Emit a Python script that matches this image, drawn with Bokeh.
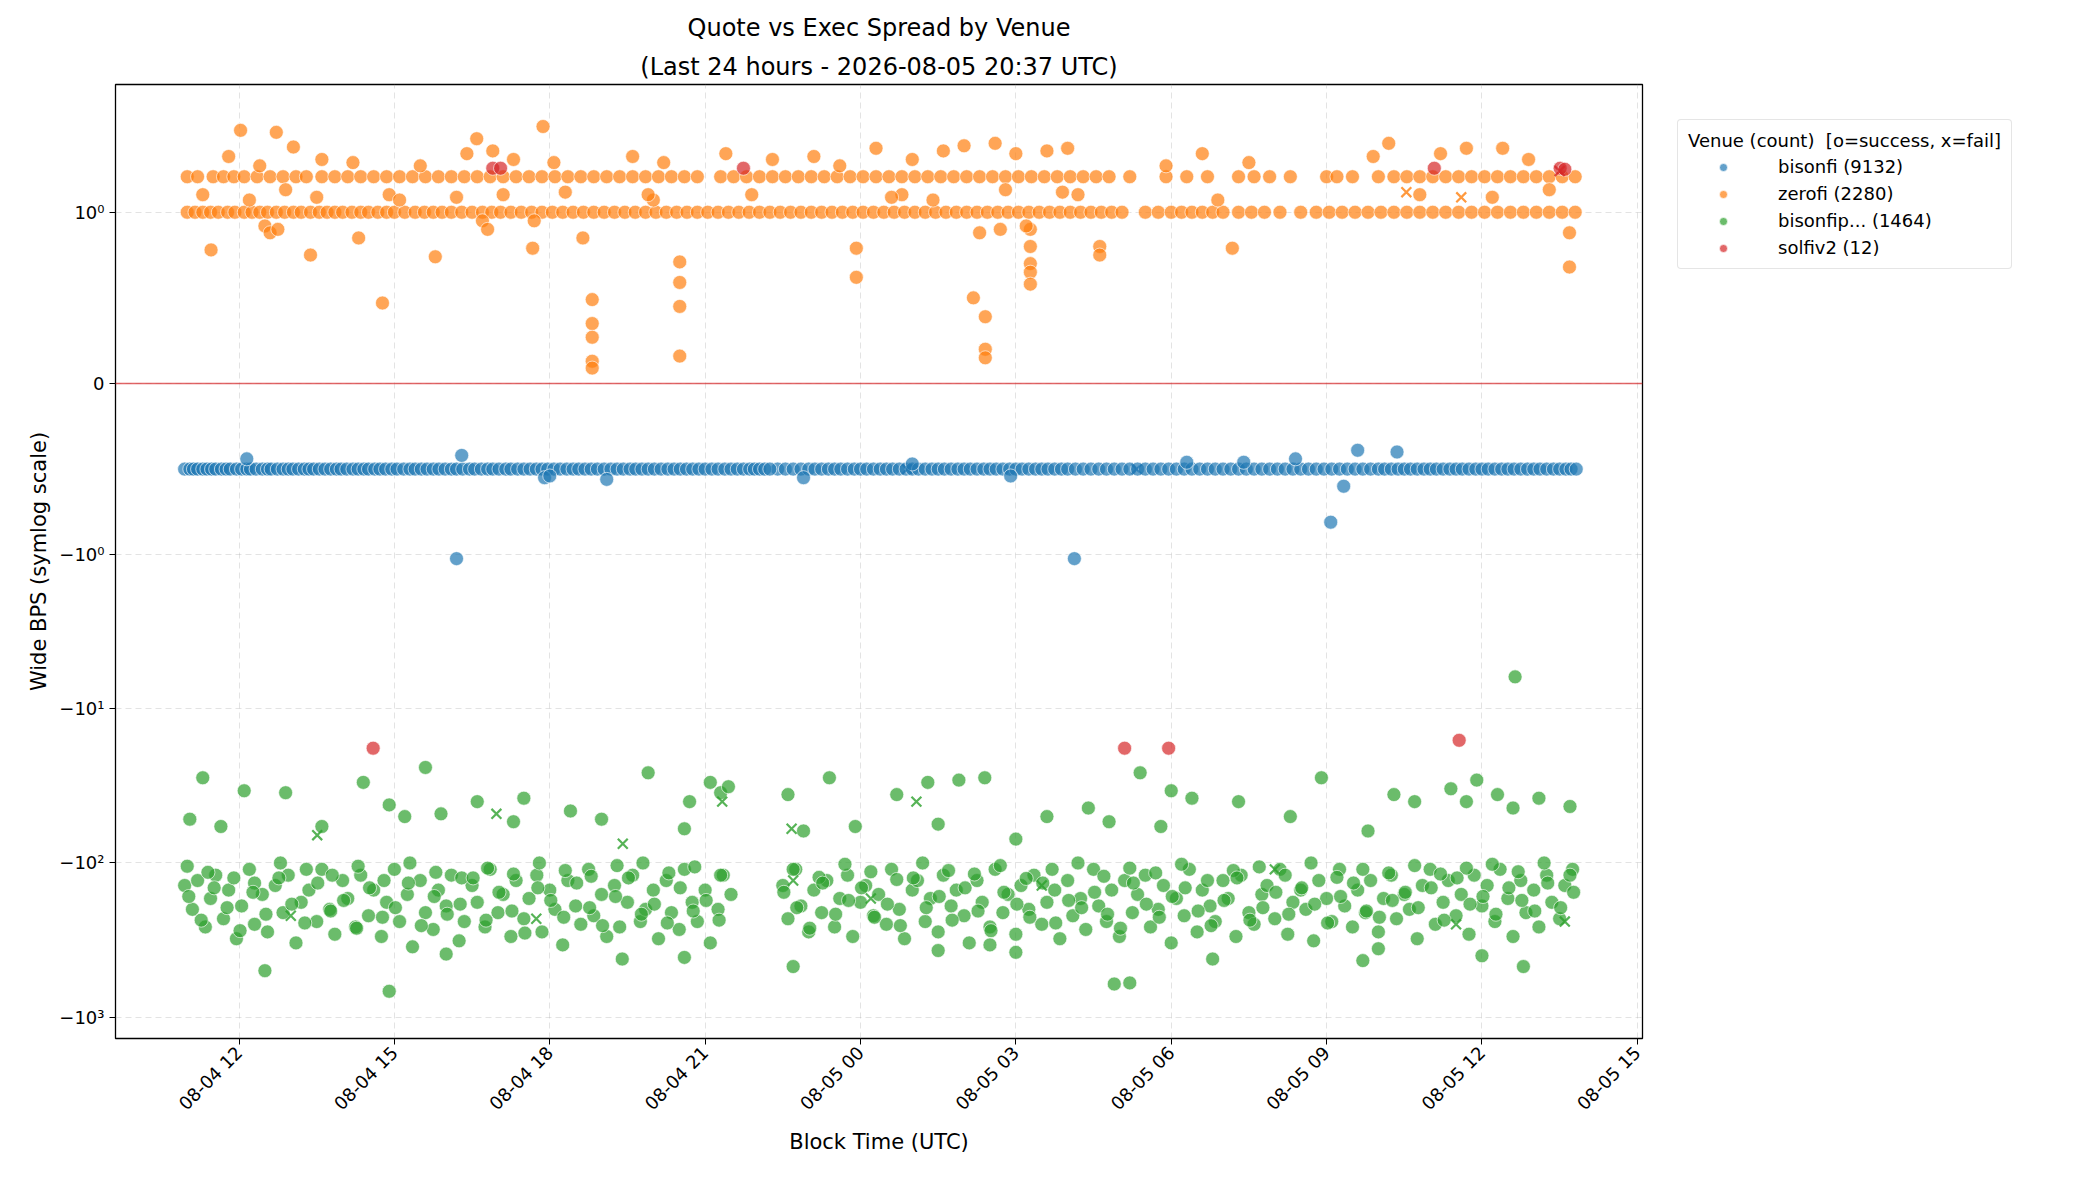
import math
from bokeh.plotting import figure
from bokeh.models import (ColumnDataSource, Span, FixedTicker, Legend, LegendItem, Range1d, Title)
from bokeh.embed import file_html
from bokeh.resources import INLINE

# ---- data (hours since 08-04 00:00 UTC, spread in bps) ----
bis_t = [10.95,11.05,11.12,11.2,11.3,11.38,11.47,11.55,11.66,11.75,11.83,11.95,12.05,12.15,12.22,12.33,12.45,12.55,12.62,12.74,12.85,12.95,13.04,13.15,13.26,13.35,13.44,13.55,13.66,13.77,13.88,13.97,14.08,14.2,14.3,14.41,14.5,14.62,14.72,14.83,14.95,15.05,15.18,15.3,15.4,15.52,15.63,15.75,15.86,15.98,16.1,16.2,16.32,16.45,16.55,16.68,16.8,16.9,17.02,17.15,17.25,17.38,17.5,17.62,17.74,17.85,17.96,18.08,18.2,18.33,18.45,18.56,18.68,18.8,18.92,19.05,19.18,19.3,19.42,19.55,19.66,19.78,19.9,20.02,20.15,20.28,20.4,20.52,20.64,20.76,20.88,21.0,21.13,21.25,21.38,21.5,21.62,21.74,21.86,22.4,22.55,22.7,22.85,23.0,23.12,23.25,23.38,23.5,23.62,23.75,23.88,24.0,24.12,24.25,24.38,24.5,24.62,24.75,24.88,25.0,25.12,25.25,25.38,25.5,25.62,25.75,25.88,26.0,26.12,26.25,26.38,26.5,26.62,26.75,26.88,27.0,27.12,27.25,27.38,27.5,27.62,27.75,27.88,28.0,28.15,28.3,28.45,28.6,28.75,28.9,29.05,29.2,29.35,29.5,29.65,29.8,29.95,30.1,30.25,30.4,30.55,30.7,30.85,31.0,31.15,31.3,31.45,31.6,31.75,31.9,32.05,32.2,32.35,32.5,32.65,32.8,32.95,33.1,33.25,33.4,33.55,33.7,33.85,34.0,34.12,34.25,34.38,34.5,34.62,34.75,34.88,35.0,35.12,35.25,35.38,35.5,35.62,35.75,35.88,36.0,36.12,36.25,36.38,36.5,36.62,36.75,36.88,37.0,37.12,37.25,37.38,37.5,37.62,37.72,37.82,21.95,22.05,22.15,22.25]
bis_v = [-0.5]*len(bis_t)
bis_out_t = [12.15,16.3,16.2,28.13,32.4,33.08,33.33,33.6,34.36,17.9,19.1,22.9,26.9,30.3,18.0,25.0,31.4]
bis_out_v = [-0.44,-0.42,-1.06,-1.06,-0.44,-0.81,-0.6,-0.39,-0.4,-0.55,-0.56,-0.55,-0.54,-0.46,-0.54,-0.47,-0.46]
bis_fail_t = [29.33, 24.9]
bis_fail_v = [-0.5, -0.5]

zf_lo_t = [11.0,11.15,11.3,11.45,11.6,11.78,11.92,12.1,12.25,12.4,12.55,12.72,12.88,13.05,13.2,13.38,13.55,13.7,13.85,14.0,14.18,14.35,14.5,14.68,14.85,15.0,15.2,15.4,15.58,15.75,15.92,16.1,16.3,16.5,16.7,16.88,17.05,17.25,17.45,17.65,17.85,18.05,18.25,18.45,18.65,18.85,19.05,19.25,19.45,19.65,19.85,20.05,20.25,20.45,20.65,20.85,21.05,21.25,21.45,21.65,21.85,22.05,22.25,22.45,22.65,22.85,23.05,23.25,23.45,23.65,23.85,24.05,24.25,24.45,24.65,24.85,25.05,25.25,25.45,25.65,25.85,26.05,26.25,26.45,26.65,26.85,27.05,27.25,27.45,27.65,27.85,28.05,28.25,28.45,28.65,28.85,29.05,29.5,29.75,30.0,30.2,30.4,30.6,30.8,31.0,31.3,31.55,31.8,32.1,32.5,32.8,33.05,33.3,33.55,33.8,34.05,34.3,34.55,34.8,35.05,35.3,35.55,35.8,36.05,36.3,36.55,36.8,37.05,37.3,37.55,37.8]
zf_lo_v = [1.0]*len(zf_lo_t)
zf_hi_t = [11.0,11.2,11.5,11.7,11.9,12.1,12.35,12.6,12.85,13.1,13.3,13.6,13.85,14.1,14.35,14.6,14.85,15.1,15.35,15.6,15.85,16.1,16.35,16.6,16.85,17.1,17.35,17.6,17.85,18.1,18.35,18.6,18.85,19.1,19.35,19.6,19.85,20.1,20.35,20.6,20.85,21.3,21.55,21.8,22.05,22.3,22.55,22.8,23.05,23.3,23.55,23.8,24.05,24.3,24.55,24.8,25.05,25.3,25.55,25.8,26.05,26.3,26.55,26.8,27.05,27.3,27.55,27.8,28.05,28.3,28.55,28.8,29.2,29.9,30.3,30.7,31.3,31.6,31.9,32.3,33.0,33.2,33.5,34.0,34.3,34.55,34.8,35.05,35.3,35.55,35.8,36.05,36.3,36.55,36.8,37.05,37.3,37.55,37.8]
zf_hi_v = [1.7]*len(zf_hi_t)
zf_x_t = [11.46,12.03,12.72,13.05,13.38,14.31,14.77,15.79,16.59,17.67,17.87,18.08,18.64,18.82,18.82,18.82,18.82,18.82,20.51,20.51,20.51,20.51,23.92,23.92,26.18,26.41,26.41,26.41,27.28,27.28,27.28,27.28,27.28,28.62,28.62,31.18,37.69,37.69,34.2,35.7,11.8,12.4,13.6,14.2,15.5,16.4,16.9,17.3,19.6,20.2,21.4,22.3,23.1,23.6,24.3,25.0,25.6,26.0,26.6,27.0,27.6,28.0,29.9,30.6,31.5,33.9,35.2,36.4,36.9,11.3,12.9,14.9,16.2,17.1,18.3,20.0,21.9,24.8,26.8,27.9,30.9,34.8,36.2,37.3,12.5,12.6,12.75,16.7,16.8,17.7,26.3,26.7,27.2,12.2,13.5,15.1,19.9,24.6,25.4,28.2]
zf_x_v = [0.78,3.4,3.3,2.65,0.75,0.85,0.47,0.74,3.0,0.79,3.6,2.1,0.85,0.49,0.35,0.27,0.13,0.09,0.71,0.59,0.45,0.16,0.79,0.62,0.5,0.39,0.2,0.15,0.8,0.7,0.65,0.58,0.9,0.8,0.75,0.79,0.68,0.88,2.8,2.6,2.3,2.0,2.2,2.1,2.0,2.4,2.5,2.2,2.3,2.1,2.4,2.2,2.3,2.0,2.6,2.2,2.5,2.7,2.8,2.4,2.5,2.6,2.0,2.4,2.1,2.3,2.4,2.6,2.2,1.3,1.4,1.3,1.25,1.3,1.35,1.2,1.3,1.3,1.4,1.35,1.2,1.3,1.25,1.4,0.92,0.88,0.9,0.95,0.9,0.95,0.88,0.9,0.92,1.2,1.25,1.2,1.3,1.25,1.2,1.3]
zf_fail_t = [34.54, 35.6]
zf_fail_v = [1.35, 1.25]

# green: bulk band (about -100 .. -350)
gr_a_t = [10.95,11.1,11.2,11.35,11.45,11.55,11.7,11.8,11.95,12.05,12.2,12.3,12.45,12.55,12.7,12.85,12.95,13.1,13.2,13.35,13.5,13.6,13.75,13.85,14.0,14.1,14.25,14.35,14.5,14.6,14.75,14.85,15.0,15.1,15.25,15.35,15.5,15.6,15.75,15.85,16.0,16.1,16.25,16.35,16.5,16.6,16.75,16.85,17.0,17.1,17.25,17.35,17.5,17.6,17.75,17.85,18.0,18.1,18.25,18.35,18.5,18.6,18.75,18.85,19.0,19.1,19.25,19.35,19.5,19.6,19.75,19.85,20.0,20.1,20.25,20.35,20.5,20.6,20.75,20.85,21.0,21.1,21.25,21.35,21.5,22.5,22.6,22.75,22.85,23.0,23.1,23.25,23.35,23.5,23.6,23.75,23.85,24.0,24.1,24.25,24.35,24.5,24.6,24.75,24.85,25.0,25.1,25.25,25.35,25.5,25.6,25.75,25.85,26.0,26.1,26.25,26.35,26.5,26.6,26.75,26.85,27.0,27.1,27.25,27.35,27.5,27.6,27.75,27.85,28.0,28.1,28.25,28.35,28.5,28.6,28.75,28.85,29.0,29.1,29.25,29.35,29.5,29.6,29.75,29.85,30.0,30.1,30.25,30.35,30.5,30.6,30.75,30.85,31.0,31.1,31.25,31.35,31.5,31.6,31.75,31.85,32.0,32.1,32.25,32.35,32.5,32.6,32.75,32.85,33.0,33.1,33.25,33.35,33.5,33.6,33.75,33.85,34.0,34.1,34.25,34.35,34.5,34.6,34.75,34.85,35.0,35.1,35.25,35.35,35.5,35.6,35.75,35.85,36.0,36.1,36.25,36.35,36.5,36.6,36.75,36.85,37.0,37.1,37.25,37.35,37.5,37.6,37.75]
gr_a_v = [-140,-200,-130,-260,-170,-120,-230,-150,-310,-190,-110,-250,-160,-280,-140,-210,-120,-330,-180,-150,-240,-110,-200,-290,-130,-170,-260,-120,-220,-150,-300,-180,-110,-240,-160,-350,-130,-210,-270,-150,-190,-120,-320,-240,-140,-180,-260,-110,-210,-160,-300,-130,-230,-170,-120,-280,-150,-200,-340,-130,-190,-250,-110,-220,-160,-300,-140,-260,-180,-120,-240,-200,-150,-310,-130,-210,-270,-110,-180,-240,-150,-330,-200,-120,-160,-140,-230,-110,-190,-280,-150,-210,-130,-260,-170,-120,-300,-180,-140,-220,-160,-250,-110,-200,-310,-150,-130,-240,-170,-280,-120,-190,-150,-220,-330,-130,-180,-260,-110,-210,-160,-290,-140,-200,-120,-250,-180,-150,-310,-130,-220,-170,-270,-110,-190,-240,-150,-300,-130,-210,-160,-120,-260,-200,-140,-330,-170,-220,-110,-280,-150,-190,-240,-130,-170,-300,-120,-210,-250,-160,-140,-230,-110,-290,-180,-150,-200,-320,-130,-170,-240,-110,-190,-260,-150,-210,-130,-280,-170,-120,-230,-160,-200,-310,-140,-110,-250,-180,-130,-220,-160,-290,-120,-190,-140,-240,-110,-170,-300,-130,-210,-150,-260,-120,-180,-230,-140,-110,-200,-160,-270,-130,-190,-150,-240,-120,-180,-140,-220,-160,-200,-130]
gr_b_t = [11.0,11.4,11.9,12.3,12.8,13.3,13.8,14.3,14.8,15.3,15.8,16.3,16.8,17.3,17.8,18.3,18.8,19.3,19.8,20.3,20.8,21.3,22.7,23.2,23.7,24.2,24.7,25.2,25.7,26.2,26.7,27.2,27.7,28.2,28.7,29.2,29.7,30.2,30.7,31.2,31.7,32.2,32.7,33.2,33.7,34.2,34.7,35.2,35.7,36.2,36.7,37.2,37.7]
gr_b_v = [-105,-115,-125,-135,-100,-110,-120,-105,-130,-100,-115,-125,-108,-118,-100,-112,-122,-104,-100,-116,-106,-120,-110,-124,-102,-114,-128,-100,-112,-118,-104,-126,-110,-100,-122,-108,-116,-102,-130,-112,-106,-120,-100,-124,-110,-116,-104,-118,-108,-102,-114,-100,-120]
gr_c_t = [11.03,11.27,11.52,11.77,12.02,12.27,12.52,12.77,13.02,13.27,13.52,13.77,14.02,14.27,14.52,14.77,15.02,15.27,15.52,15.77,16.02,16.27,16.52,16.77,17.02,17.27,17.52,17.77,18.02,18.27,18.52,18.77,19.02,19.27,19.52,19.77,20.02,20.27,20.52,20.77,21.02,21.27,22.52,22.77,23.02,23.27,23.52,23.77,24.02,24.27,24.52,24.77,25.02,25.27,25.52,25.77,26.02,26.27,26.52,26.77,27.02,27.27,27.52,27.77,28.02,28.27,28.52,28.77,29.02,29.27,29.52,29.77,30.02,30.27,30.52,30.77,31.02,31.27,31.52,31.77,32.02,32.27,32.52,32.77,33.02,33.27,33.52,33.77,34.02,34.27,34.52,34.77,35.02,35.27,35.52,35.77,36.02,36.27,36.52,36.77,37.02,37.27,37.52,37.77]
gr_c_v = [-165,-235,-145,-195,-275,-155,-215,-125,-185,-245,-135,-205,-175,-265,-145,-225,-195,-135,-255,-165,-215,-185,-125,-235,-155,-205,-285,-145,-175,-225,-135,-195,-255,-165,-125,-215,-185,-245,-145,-205,-175,-235,-155,-195,-265,-135,-215,-175,-145,-225,-185,-255,-125,-195,-165,-235,-145,-205,-275,-155,-185,-225,-135,-245,-175,-195,-155,-215,-265,-135,-185,-225,-165,-145,-205,-255,-175,-125,-235,-195,-155,-215,-145,-185,-245,-165,-135,-205,-225,-175,-155,-195,-145,-235,-125,-185,-165,-215,-145,-175,-205,-135,-195,-155]
# green: sparse upper points (about -20 .. -80)
gr_u_t = [11.05,11.3,11.65,12.1,12.9,13.6,14.4,14.9,15.2,15.6,15.9,16.6,17.3,17.5,18.4,19.0,19.9,20.6,20.7,21.1,21.3,21.45,22.6,22.9,23.4,23.9,24.7,25.3,25.5,25.9,26.4,27.0,27.6,28.4,28.8,29.4,29.8,30.0,30.4,31.3,32.3,32.9,33.8,34.3,34.7,35.4,35.7,35.9,36.3,36.6,37.1,37.7]
gr_u_v = [-52,-28,-58,-34,-35,-58,-30,-42,-50,-24,-48,-40,-54,-38,-46,-52,-26,-60,-40,-30,-35,-32,-36,-62,-28,-58,-36,-30,-56,-29,-28,-70,-50,-44,-54,-26,-58,-34,-38,-40,-50,-28,-62,-36,-40,-33,-40,-29,-36,-44,-38,-43]
# green: low outliers and the one high outlier
gr_o_t = [14.9,20.6,22.7,26.5,27.0,28.9,29.2,33.7,34.0,36.0,36.8,12.5,16.0,19.4,25.5,30.8,36.64]
gr_o_v = [-680,-410,-470,-340,-380,-610,-600,-430,-360,-400,-470,-500,-390,-420,-370,-420,-6.2]
gr_fail_t = [13.51,16.97,19.41,22.67,25.08,37.6,21.33,17.74,22.7,27.5,13.0,24.2,32.0,35.5]
gr_fail_v = [-66,-48,-75,-60,-40,-240,-40,-230,-130,-140,-220,-170,-110,-250]

sv_t = [14.59,16.9,17.05,21.74,29.1,29.95,35.08,35.56,37.51,37.6]
sv_v = [-18,1.93,1.93,1.93,-18,-18,1.93,-16,1.93,1.9]
sv_fail_t = [37.5]
sv_fail_v = [1.85]

venues = ["bisonfi (9132)", "zerofi (2280)", "bisonfip... (1464)", "solfiv2 (12)"]
colors = ["#1f77b4", "#ff7f0e", "#2ca02c", "#d62728"]

xticks = [12, 15, 18, 21, 24, 27, 30, 33, 36, 39]
xlabels = ["08-04 12", "08-04 15", "08-04 18", "08-04 21", "08-05 00",
           "08-05 03", "08-05 06", "08-05 09", "08-05 12", "08-05 15"]
yticks_raw = [1, 0, -1, -10, -100, -1000]
ylabels = ["10\u2070", "0", "\u221210\u2070", "\u221210\u00b9", "\u221210\u00b2", "\u221210\u00b3"]

# symlog scale (linthresh=1, linscale=1, base 10)
LS = 1.0 / (1 - 0.1)
def symlog(v):
    a = abs(v)
    if a <= 1:
        return v * LS
    return math.copysign(LS + math.log10(a), v)

FONT = "DejaVu Sans"
p = figure(frame_width=1527, frame_height=954, output_backend="svg", toolbar_location=None,
           x_range=Range1d(9.615, 39.1), y_range=Range1d(-4.25, 1.94),
           min_border_left=115, min_border_right=20, min_border_top=84, min_border_bottom=10)
p.title.text = "Quote vs Exec Spread by Venue"
p.title.align = "center"
p.title.text_font = FONT
p.title.text_font_size = "24px"
p.title.text_font_style = "normal"
p.title.text_color = "black"
t2 = Title(text="(Last 24 hours - 2026-08-05 20:37 UTC)", align="center", text_font=FONT,
           text_font_size="24px", text_font_style="normal", text_color="black", standoff=8)
p.add_layout(t2, "above")

def add(ts, vs, color, marker="circle"):
    n = min(len(ts), len(vs))
    src = ColumnDataSource(dict(x=ts[:n], y=[symlog(v) for v in vs[:n]]))
    if marker == "circle":
        return p.scatter("x", "y", source=src, size=14, fill_color=color, fill_alpha=0.7,
                         line_color="white", line_width=0.8, line_alpha=0.8)
    return p.scatter("x", "y", source=src, marker="x", size=14, line_color=color,
                     line_alpha=0.8, line_width=2.2)

r_b = add(bis_t, bis_v, colors[0]); add(bis_out_t, bis_out_v, colors[0]); add(bis_fail_t, bis_fail_v, colors[0], "x")
r_z = add(zf_lo_t, zf_lo_v, colors[1]); add(zf_hi_t, zf_hi_v, colors[1]); add(zf_x_t, zf_x_v, colors[1]); add(zf_fail_t, zf_fail_v, colors[1], "x")
r_g = add(gr_a_t, gr_a_v, colors[2]); add(gr_b_t, gr_b_v, colors[2]); add(gr_c_t, gr_c_v, colors[2])
add(gr_u_t, gr_u_v, colors[2]); add(gr_o_t, gr_o_v, colors[2]); add(gr_fail_t, gr_fail_v, colors[2], "x")
r_s = add(sv_t, sv_v, colors[3]); add(sv_fail_t, sv_fail_v, colors[3], "x")

p.add_layout(Span(location=0, dimension="width", line_color="#d62728", line_alpha=0.7, line_width=1.3))

p.xaxis.ticker = FixedTicker(ticks=xticks)
p.xaxis.major_label_overrides = dict(zip(xticks, xlabels))
p.xaxis.major_label_orientation = math.pi / 4
p.yaxis.ticker = FixedTicker(ticks=[symlog(v) for v in yticks_raw])
p.yaxis.major_label_overrides = {symlog(v): l for v, l in zip(yticks_raw, ylabels)}
p.xaxis.axis_label = "Block Time (UTC)"
p.yaxis.axis_label = "Wide BPS (symlog scale)"
for ax in (p.xaxis[0], p.yaxis[0]):
    ax.axis_label_text_font = FONT
    ax.axis_label_text_font_size = "21px"
    ax.axis_label_text_font_style = "normal"
    ax.axis_label_text_color = "black"
    ax.major_label_text_font = FONT
    ax.major_label_text_font_size = "18px"
    ax.major_label_text_color = "black"
    ax.minor_tick_line_color = None
    ax.major_tick_line_color = "black"
    ax.major_tick_out = 6
    ax.major_tick_in = 0
    ax.axis_line_color = None
p.outline_line_color = "black"
p.outline_line_width = 1.3
p.grid.grid_line_color = "#b0b0b0"
p.grid.grid_line_alpha = 0.35
p.grid.grid_line_dash = "6 4"

legend = Legend(items=[LegendItem(label=n, renderers=[r]) for n, r in zip(venues, [r_b, r_z, r_g, r_s])],
                title="Venue (count)  [o=success, x=fail]")
legend.title_text_font = FONT
legend.title_text_font_size = "18px"
legend.title_text_font_style = "normal"
legend.title_text_color = "black"
legend.label_text_font = FONT
legend.label_text_font_size = "18px"
legend.label_text_color = "black"
legend.border_line_color = "#cccccc"
legend.border_line_width = 1.5
legend.border_radius = 4
legend.glyph_width = 70
legend.label_standoff = 20
legend.spacing = 6
legend.padding = 10
legend.margin = 35
legend.location = "top_left"
p.add_layout(legend, "right")

open("out.html", "w").write(file_html(p, INLINE))
